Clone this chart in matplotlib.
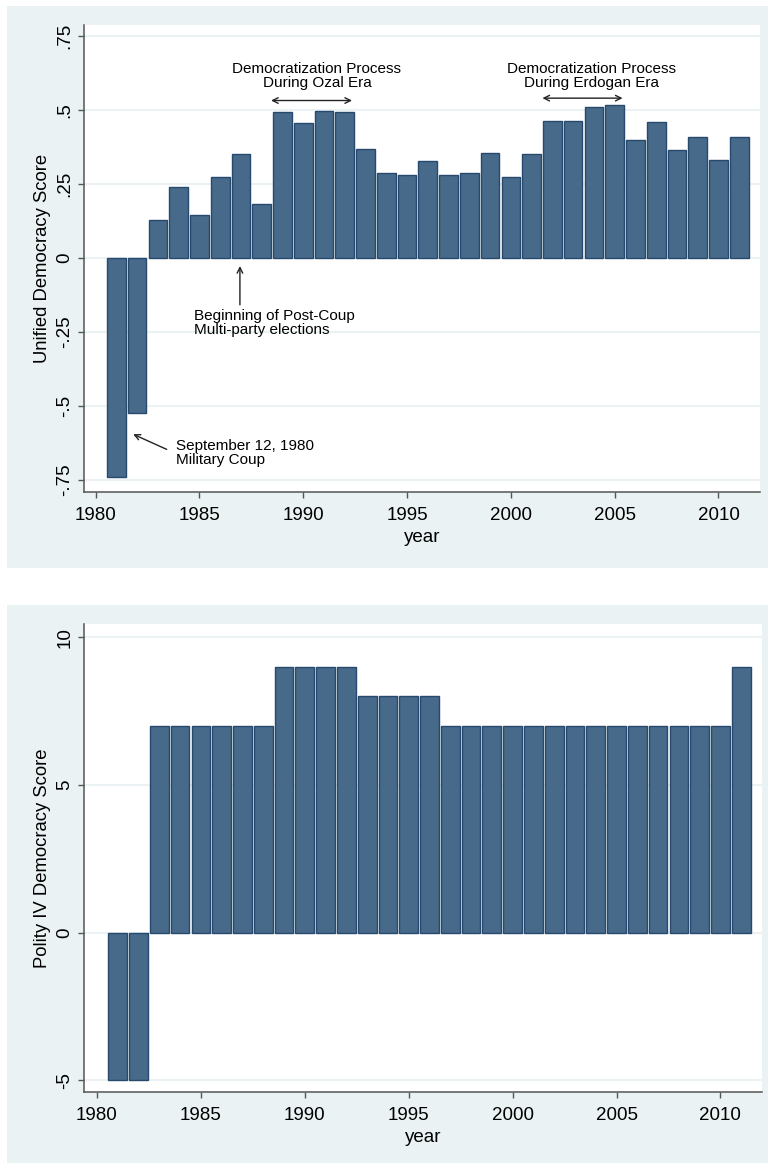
import matplotlib.pyplot as plt
from matplotlib.patches import Rectangle

plt.rcParams['font.family'] = ['Liberation Sans', 'DejaVu Sans']

# Turkey, 1981-2011
years = list(range(1981, 2012))
unified_scores = [-0.739, -0.524, 0.130, 0.241, 0.145, 0.274, 0.353, 0.181,
                  0.493, 0.456, 0.496, 0.493, 0.368, 0.286, 0.282, 0.327,
                  0.282, 0.286, 0.356, 0.274, 0.350, 0.463, 0.463, 0.511,
                  0.516, 0.400, 0.459, 0.364, 0.408, 0.330, 0.408]
polity_scores = [-5, -5, 7, 7, 7, 7, 7, 7, 9, 9, 9, 9, 8, 8, 8, 8,
                 7, 7, 7, 7, 7, 7, 7, 7, 7, 7, 7, 7, 7, 7, 9]

unified_ticks = [-0.75, -0.5, -0.25, 0, 0.25, 0.5, 0.75]
unified_ticklabels = ['-.75', '-.5', '-.25', '0', '.25', '.5', '.75']
polity_ticks = [-5, 0, 5, 10]
polity_ticklabels = ['-5', '0', '5', '10']
year_ticks = [1980, 1985, 1990, 1995, 2000, 2005, 2010]

BG = '#eaf2f3'
FILL = '#476a8a'
EDGE = '#26496d'
AXC = '#555555'

W, H = 771, 1165
fig = plt.figure(figsize=(W / 100, H / 100), dpi=100)

# stata-style outer panels
fig.add_artist(Rectangle((7 / W, 1 - 568 / H), 761 / W, 562 / H,
                         transform=fig.transFigure, facecolor=BG,
                         edgecolor='none', zorder=0))
fig.add_artist(Rectangle((7 / W, 1 - 1163 / H), 761 / W, 558 / H,
                         transform=fig.transFigure, facecolor=BG,
                         edgecolor='none', zorder=0))

ax1 = fig.add_axes([84 / W, 1 - 492 / H, 676 / W, 467 / H])
ax2 = fig.add_axes([84 / W, 1 - 1092 / H, 678 / W, 468 / H])


def style(ax, ticks, ticklabels, ylabel):
    ax.set_facecolor('white')
    ax.set_yticks(ticks)
    ax.set_yticklabels(ticklabels, rotation=90, va='center')
    ax.set_xticks(year_ticks)
    ax.tick_params(axis='both', direction='out', length=4.5, width=1,
                   color=AXC, labelsize=13.5)
    ax.tick_params(axis='x', pad=6)
    ax.tick_params(axis='y', pad=3)
    for s in ['top', 'right']:
        ax.spines[s].set_visible(False)
    for s in ['left', 'bottom']:
        ax.spines[s].set_color(AXC)
        ax.spines[s].set_linewidth(1.1)
    ax.yaxis.grid(True, color=BG, linewidth=1.5)
    ax.set_axisbelow(True)
    ax.set_ylabel(ylabel, fontsize=13.3, labelpad=4)
    ax.set_xlabel('year', fontsize=13.5, labelpad=4)


# top: unified democracy score
ax1.bar(years, unified_scores, width=0.9, color=FILL, edgecolor=EDGE,
        linewidth=1, zorder=3)
ax1.set_xlim(1979.44, 2012.0)
ax1.set_ylim(-0.79, 0.787)
style(ax1, unified_ticks, unified_ticklabels, 'Unified Democracy Score')

fs = 11
ax1.text(1990.66, 0.615, 'Democratization Process\nDuring Ozal Era',
         ha='center', va='center', fontsize=fs, linespacing=1.0)
ax1.annotate('', xy=(1988.45, 0.532), xytext=(1992.35, 0.532),
             arrowprops=dict(arrowstyle='<->', color='#222222', lw=1,
                             shrinkA=0, shrinkB=0))
ax1.text(2003.87, 0.615, 'Democratization Process\nDuring Erdogan Era',
         ha='center', va='center', fontsize=fs, linespacing=1.0)
ax1.annotate('', xy=(2001.52, 0.54), xytext=(2005.38, 0.54),
             arrowprops=dict(arrowstyle='<->', color='#222222', lw=1,
                             shrinkA=0, shrinkB=0))
ax1.text(1984.75, -0.218, 'Beginning of Post-Coup\nMulti-party elections',
         ha='left', va='center', fontsize=fs, linespacing=1.0)
ax1.annotate('', xy=(1986.95, -0.027), xytext=(1986.95, -0.158),
             arrowprops=dict(arrowstyle='->', color='#222222', lw=1,
                             shrinkA=0, shrinkB=0))
ax1.text(1983.86, -0.657, 'September 12, 1980\nMilitary Coup',
         ha='left', va='center', fontsize=fs, linespacing=1.0)
ax1.annotate('', xy=(1981.81, -0.595), xytext=(1983.42, -0.646),
             arrowprops=dict(arrowstyle='->', color='#222222', lw=1,
                             shrinkA=0, shrinkB=0))

# bottom: polity iv democracy score
ax2.bar(years, polity_scores, width=0.9, color=FILL, edgecolor=EDGE,
        linewidth=1, zorder=3)
ax2.set_xlim(1979.375, 2012.0)
ax2.set_ylim(-5.40, 10.45)
style(ax2, polity_ticks, polity_ticklabels, 'Polity IV Democracy Score')

fig.savefig('out.png', dpi=100)
